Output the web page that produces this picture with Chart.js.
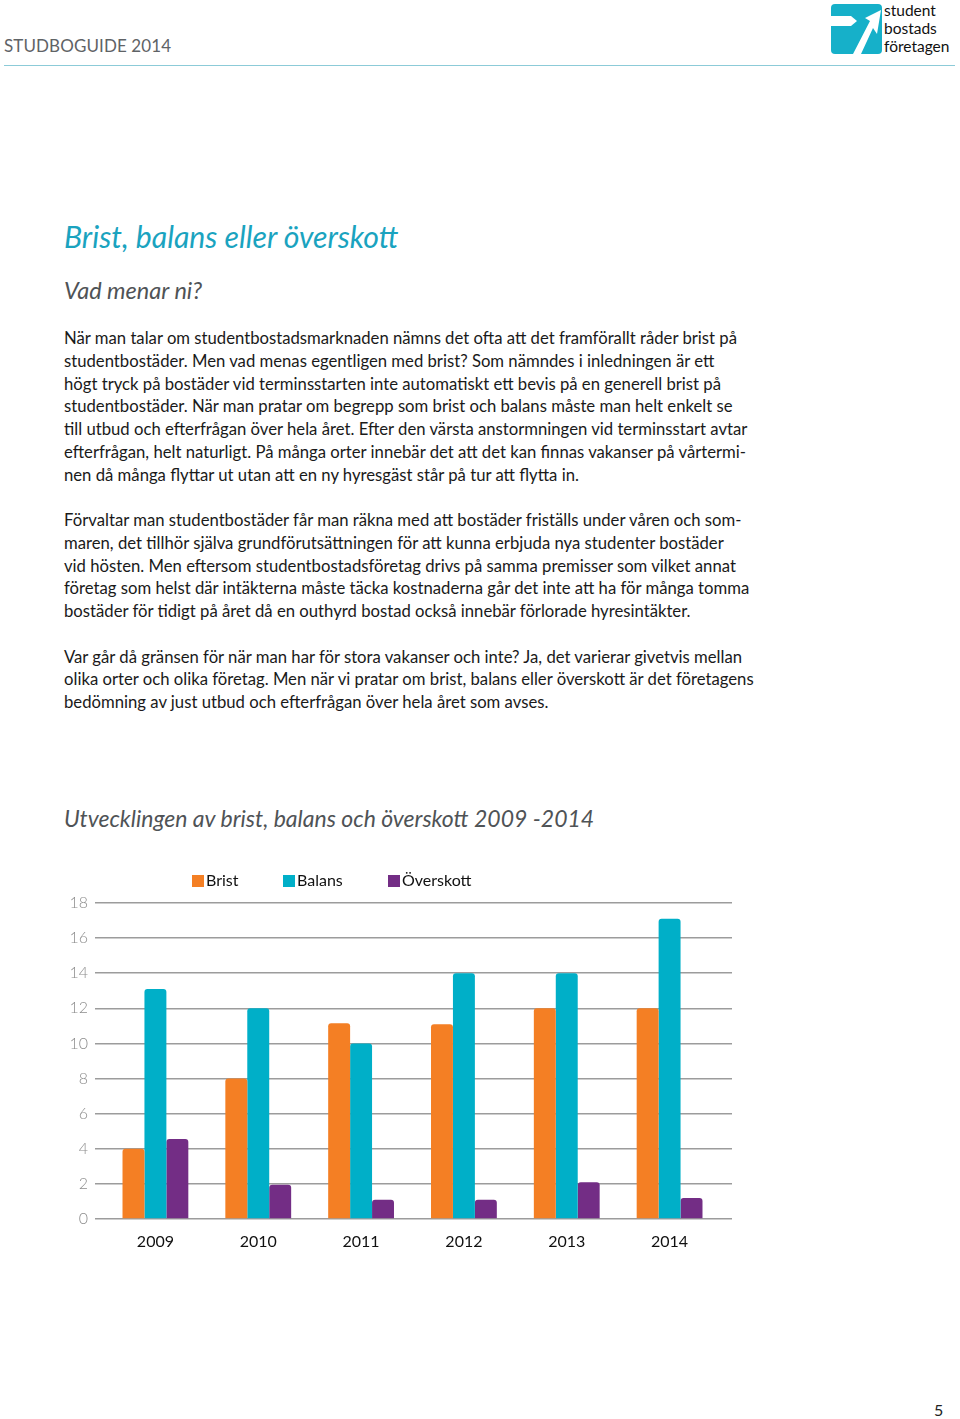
<!DOCTYPE html>
<html>
<head>
<meta charset="utf-8">
<script src="https://cdn.jsdelivr.net/npm/chart.js@4.4.1/dist/chart.umd.min.js"></script>
<style>
  html, body { margin: 0; padding: 0; background: #fff; }
  body { width: 960px; height: 1419px; position: relative; overflow: hidden; font-family: Lato, "Open Sans", sans-serif; }
  .abs { position: absolute; white-space: nowrap; }
  #hdr { left: 4px; top: 35px; font-size: 17px; color: #5f6366; letter-spacing: 0.1px; }
  #hline { left: 4px; top: 65px; width: 951px; height: 1px; background: #8ccbd8; }
  #logoTxt { left: 884px; top: 1px; font-size: 15.5px; line-height: 18px; color: #111; }
  #title { left: 64px; top: 218px; font-size: 30.2px; font-style: italic; color: #1aa3bf; }
  #sub { left: 64px; top: 276px; font-size: 23.5px; font-style: italic; color: #4f5356; }
  #body { left: 64px; top: 327px; font-size: 16.7px; line-height: 22.75px; color: #1a1a1a; }
  #ctitle { left: 64px; top: 804px; font-size: 23px; font-style: italic; color: #4f5356; }
  #pnum { left: 934px; top: 1400px; font-size: 16px; color: #222; }
  .leg { position: absolute; top: 871px; font-size: 16px; color: #111; white-space: nowrap; line-height: 18px; }
  .leg i { display: inline-block; width: 12px; height: 12px; margin-right: 2px; vertical-align: -1px; }
  #chartBox { position: absolute; left: 60px; top: 860px; width: 700px; height: 400px; }
</style>
</head>
<body>
<div id="hdr" class="abs">STUDBOGUIDE 2014</div>
<div id="hline" class="abs"></div>
<svg class="abs" style="left:831px;top:4px" width="51" height="50" viewBox="0 0 51 50">
  <rect x="0" y="0" width="51" height="50" rx="4" fill="#16b0c9"/>
  <polygon points="0,12 20,12 26,17 20,22 0,22" fill="#fff"/>
  <polygon points="22,50 30,50 42,24 46,30 50,6 34,14 39,17" fill="#fff"/>
</svg>
<div id="logoTxt" class="abs">student<br>bostads<br>företagen</div>

<div id="title" class="abs">Brist, balans eller överskott</div>
<div id="sub" class="abs">Vad menar ni?</div>
<div id="body" class="abs">När man talar om studentbostadsmarknaden nämns det ofta att det framförallt råder brist på<br>studentbostäder. Men vad menas egentligen med brist? Som nämndes i inledningen är ett<br>högt tryck på bostäder vid terminsstarten inte automatiskt ett bevis på en generell brist på<br>studentbostäder. När man pratar om begrepp som brist och balans måste man helt enkelt se<br>till utbud och efterfrågan över hela året. Efter den värsta anstormningen vid terminsstart avtar<br>efterfrågan, helt naturligt. På många orter innebär det att det kan finnas vakanser på vårtermi-<br>nen då många flyttar ut utan att en ny hyresgäst står på tur att flytta in.<br><br>Förvaltar man studentbostäder får man räkna med att bostäder friställs under våren och som-<br>maren, det tillhör själva grundförutsättningen för att kunna erbjuda nya studenter bostäder<br>vid hösten. Men eftersom studentbostadsföretag drivs på samma premisser som vilket annat<br>företag som helst där intäkterna måste täcka kostnaderna går det inte att ha för många tomma<br>bostäder för tidigt på året då en outhyrd bostad också innebär förlorade hyresintäkter.<br><br>Var går då gränsen för när man har för stora vakanser och inte? Ja, det varierar givetvis mellan<br>olika orter och olika företag. Men när vi pratar om brist, balans eller överskott är det företagens<br>bedömning av just utbud och efterfrågan över hela året som avses.</div>

<div id="ctitle" class="abs">Utvecklingen av brist, balans och överskott 2009 -2014</div>

<div id="chartBox"><canvas id="c" width="700" height="400"></canvas></div>
<div class="leg" style="left:192px"><i style="background:#f47f24"></i>Brist</div>
<div class="leg" style="left:283px"><i style="background:#00afc8"></i>Balans</div>
<div class="leg" style="left:388px"><i style="background:#732d85"></i>Överskott</div>

<div id="pnum" class="abs">5</div>

<script>
const years = ['2009', '2010', '2011', '2012', '2013', '2014'];
const brist = [4, 8, 11.15, 11.1, 12, 12];
const balans = [13.1, 12, 10, 14, 14, 17.1];
const overskott = [4.55, 1.95, 1.1, 1.1, 2.1, 1.2];
const seriesNames = ['Brist', 'Balans', 'Överskott'];
const seriesColors = ['#f47f24', '#00afc8', '#732d85'];
const yMin = 0, yMax = 18, yStep = 2;

const radius = { topLeft: 3, topRight: 3, bottomLeft: 0, bottomRight: 0 };
const datasets = [brist, balans, overskott].map((d, i) => ({
  label: seriesNames[i],
  data: d,
  backgroundColor: seriesColors[i],
  borderWidth: 0,
  borderRadius: radius,
  borderSkipped: false,
  categoryPercentage: 0.64,
  barPercentage: 1.0
}));

new Chart(document.getElementById('c'), {
  type: 'bar',
  data: { labels: years, datasets },
  options: {
    responsive: false,
    animation: false,
    layout: { padding: { top: 43, right: 28, bottom: 0, left: 0 } },
    plugins: { legend: { display: false }, tooltip: { enabled: false } },
    scales: {
      x: {
        grid: { display: false, drawTicks: false },
        border: { display: false },
        ticks: { color: '#111', font: { family: 'Lato', size: 16 }, padding: 13 },
        afterFit: s => { s.height = 41; }
      },
      y: {
        min: yMin, max: yMax,
        grid: { color: '#9c9c9c', lineWidth: 1.5, drawTicks: true, tickLength: 9 },
        border: { display: false },
        ticks: { stepSize: yStep, color: '#8c8c8c', font: { family: 'Lato', size: 16, weight: 300 }, padding: 7 },
        afterFit: s => { s.width = 44; }
      },
      y2: {
        position: 'right',
        min: yMin, max: yMax,
        grid: { color: '#9c9c9c', lineWidth: 1.5, drawOnChartArea: false, drawTicks: true, tickLength: 11 },
        border: { display: false },
        ticks: { stepSize: yStep, display: false },
        afterFit: s => { s.width = 11; }
      }
    }
  }
});
</script>
</body>
</html>
